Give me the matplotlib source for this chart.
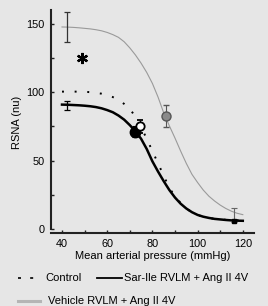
import matplotlib
matplotlib.use("Agg")
import matplotlib.pyplot as plt
from matplotlib.lines import Line2D
from matplotlib.ticker import MultipleLocator

# curve values (RSNA, nu) against mean arterial pressure
map_x = [40, 42.5, 45, 47.5, 50, 52.5, 55, 57.5, 60, 62.5, 65, 67.5, 70, 72.5, 75, 77.5,
         80, 82.5, 85, 87.5, 90, 92.5, 95, 97.5, 100, 102.5, 105, 107.5, 110, 112.5, 115, 117.5, 120]
control_rsna = [100.5, 100.5, 100.5, 100.5, 100.4, 100.1, 99.6, 99, 98, 96.5, 94.5, 91.5, 88, 82, 74.5, 66,
                57, 48, 39, 30, 24, 19, 15, 12.2, 10.2, 9, 8.1, 7.4, 7, 6.7, 6.5, 6.4, 6.3]
sarile_rsna = [91, 90.9, 90.7, 90.5, 90.2, 89.8, 89.2, 88.3, 87, 85.4, 83, 80, 76, 71.5, 66, 58.5,
               49.5, 42, 35, 28.5, 23, 18.5, 15, 12.3, 10.3, 9, 8.1, 7.4, 7, 6.6, 6.3, 6.1, 6]
vehicle_rsna = [147.8, 147.7, 147.5, 147.2, 146.8, 146.4, 145.8, 145, 143.8, 142.2, 140.2, 137, 132.5, 127.3,
                121.3, 114.5, 106.5, 96.5, 85, 75.5, 66.5, 57, 48, 40, 34, 28.5, 24, 20.5, 17.5, 15, 13,
                11.5, 10.5]

# group means with error bars
basal_map = [42, 42]
basal_rsna = [147.5, 90.5]
basal_err = [11, 3.5]
mid_map = [74.5, 72.3, 86]
mid_rsna = [75, 71, 82.7]
mid_err = [5, 4, 8]
end_map = [116, 116]
end_rsna = [10, 5.5]
end_err = [5, 0]
star_xy = (48.7, 125)

bg = "#e6e6e6"
gray = "#9a9a9a"
W, H = 268, 306

plt.rcParams["font.family"] = ["Liberation Sans", "DejaVu Sans"]
plt.rcParams["font.size"] = 8

fig = plt.figure(figsize=(W / 100, H / 100), dpi=100)
fig.patch.set_facecolor(bg)
ax = fig.add_axes([50.7 / W, (H - 229) / H, 203.4 / W, 218.7 / H])
ax.set_facecolor("none")

# curves
ax.plot(map_x, vehicle_rsna, color=gray, lw=0.8, zorder=2)
ax.plot(map_x, sarile_rsna, color="black", lw=1.8, zorder=3)
ax.plot(map_x, control_rsna, color="black", lw=1.4, linestyle=(0, (1, 5.5)), zorder=3)

# basal points
ax.errorbar(basal_map[:1], basal_rsna[:1], yerr=basal_err[:1], fmt="none",
            ecolor="#333333", elinewidth=0.9, capsize=2.5, capthick=0.9, zorder=4)
ax.errorbar(basal_map[1:], basal_rsna[1:], yerr=basal_err[1:], fmt="none",
            ecolor="black", elinewidth=0.9, capsize=2.5, capthick=0.9, zorder=4)

# midpoint circles
ax.errorbar(mid_map[2], mid_rsna[2], yerr=mid_err[2], fmt="o", ms=6.5,
            mfc="#8a8a8a", mec="#555555", mew=1.0, ecolor="#555555",
            elinewidth=0.8, capsize=2, capthick=0.8, zorder=5)
ax.errorbar(mid_map[1], mid_rsna[1], yerr=mid_err[1], fmt="o", ms=7.5,
            mfc="black", mec="black", ecolor="black",
            elinewidth=0.8, capsize=2, capthick=0.8, zorder=5)
ax.errorbar(mid_map[0], mid_rsna[0], yerr=mid_err[0], fmt="o", ms=6,
            mfc="white", mec="black", mew=1.3, ecolor="black",
            elinewidth=0.8, capsize=2, capthick=0.8, zorder=6)

# end points
ax.errorbar(end_map[0], end_rsna[0], yerr=end_err[0], fmt="none",
            ecolor="#666666", elinewidth=0.8, capsize=2.5, capthick=0.8, zorder=4)
ax.plot(end_map[1], end_rsna[1], marker="s", ms=3.5, color="black", zorder=5)

# significance star
ax.plot(*star_xy, marker=(6, 2, 0), ms=8, mew=1.6, color="black")

ax.set_xlim(35, 125)
ax.set_ylim(0, 160)
ax.xaxis.set_major_locator(MultipleLocator(20))
ax.xaxis.set_minor_locator(MultipleLocator(10))
ax.yaxis.set_major_locator(MultipleLocator(50))
ax.yaxis.set_minor_locator(MultipleLocator(25))
ax.set_xticks([40, 60, 80, 100, 120])
ax.tick_params(which="both", direction="in", length=2.5, width=1.0, color="#222222",
               labelsize=7.8)
ax.tick_params(axis="y", pad=4.5)
ax.tick_params(axis="x", pad=4)

for side in ["top", "right"]:
    ax.spines[side].set_visible(False)
for side in ["left", "bottom"]:
    ax.spines[side].set_linewidth(1.5)
    ax.spines[side].set_color("#222222")
ax.spines["bottom"].set_position(("outward", 3))

ax.set_xlabel("Mean arterial pressure (mmHg)", labelpad=1.5)
fig.text(17.5 / W, (H - 122.5) / H, "RSNA (nu)", rotation=90, ha="center", va="center")

# legend drawn by hand
def fy(py):
    return (H - py) / H

fig.add_artist(Line2D([18 / W, 33.5 / W], [fy(278), fy(278)], color="black", lw=1.2,
                      linestyle=(0, (1.8, 5.5)), transform=fig.transFigure))
fig.text(45 / W, fy(278), "Control", ha="left", va="center")
fig.add_artist(Line2D([97 / W, 122 / W], [fy(278), fy(278)], color="black", lw=1.3,
                      transform=fig.transFigure))
fig.text(124 / W, fy(278), "Sar-Ile RVLM + Ang II 4V", ha="left", va="center")
fig.add_artist(Line2D([18 / W, 40 / W], [fy(301), fy(301)], color="#b5b5b5", lw=2.2,
                      transform=fig.transFigure))
fig.text(48 / W, fy(301.5), "Vehicle RVLM + Ang II 4V", ha="left", va="center")

fig.savefig("out.png", dpi=100, facecolor=bg)
